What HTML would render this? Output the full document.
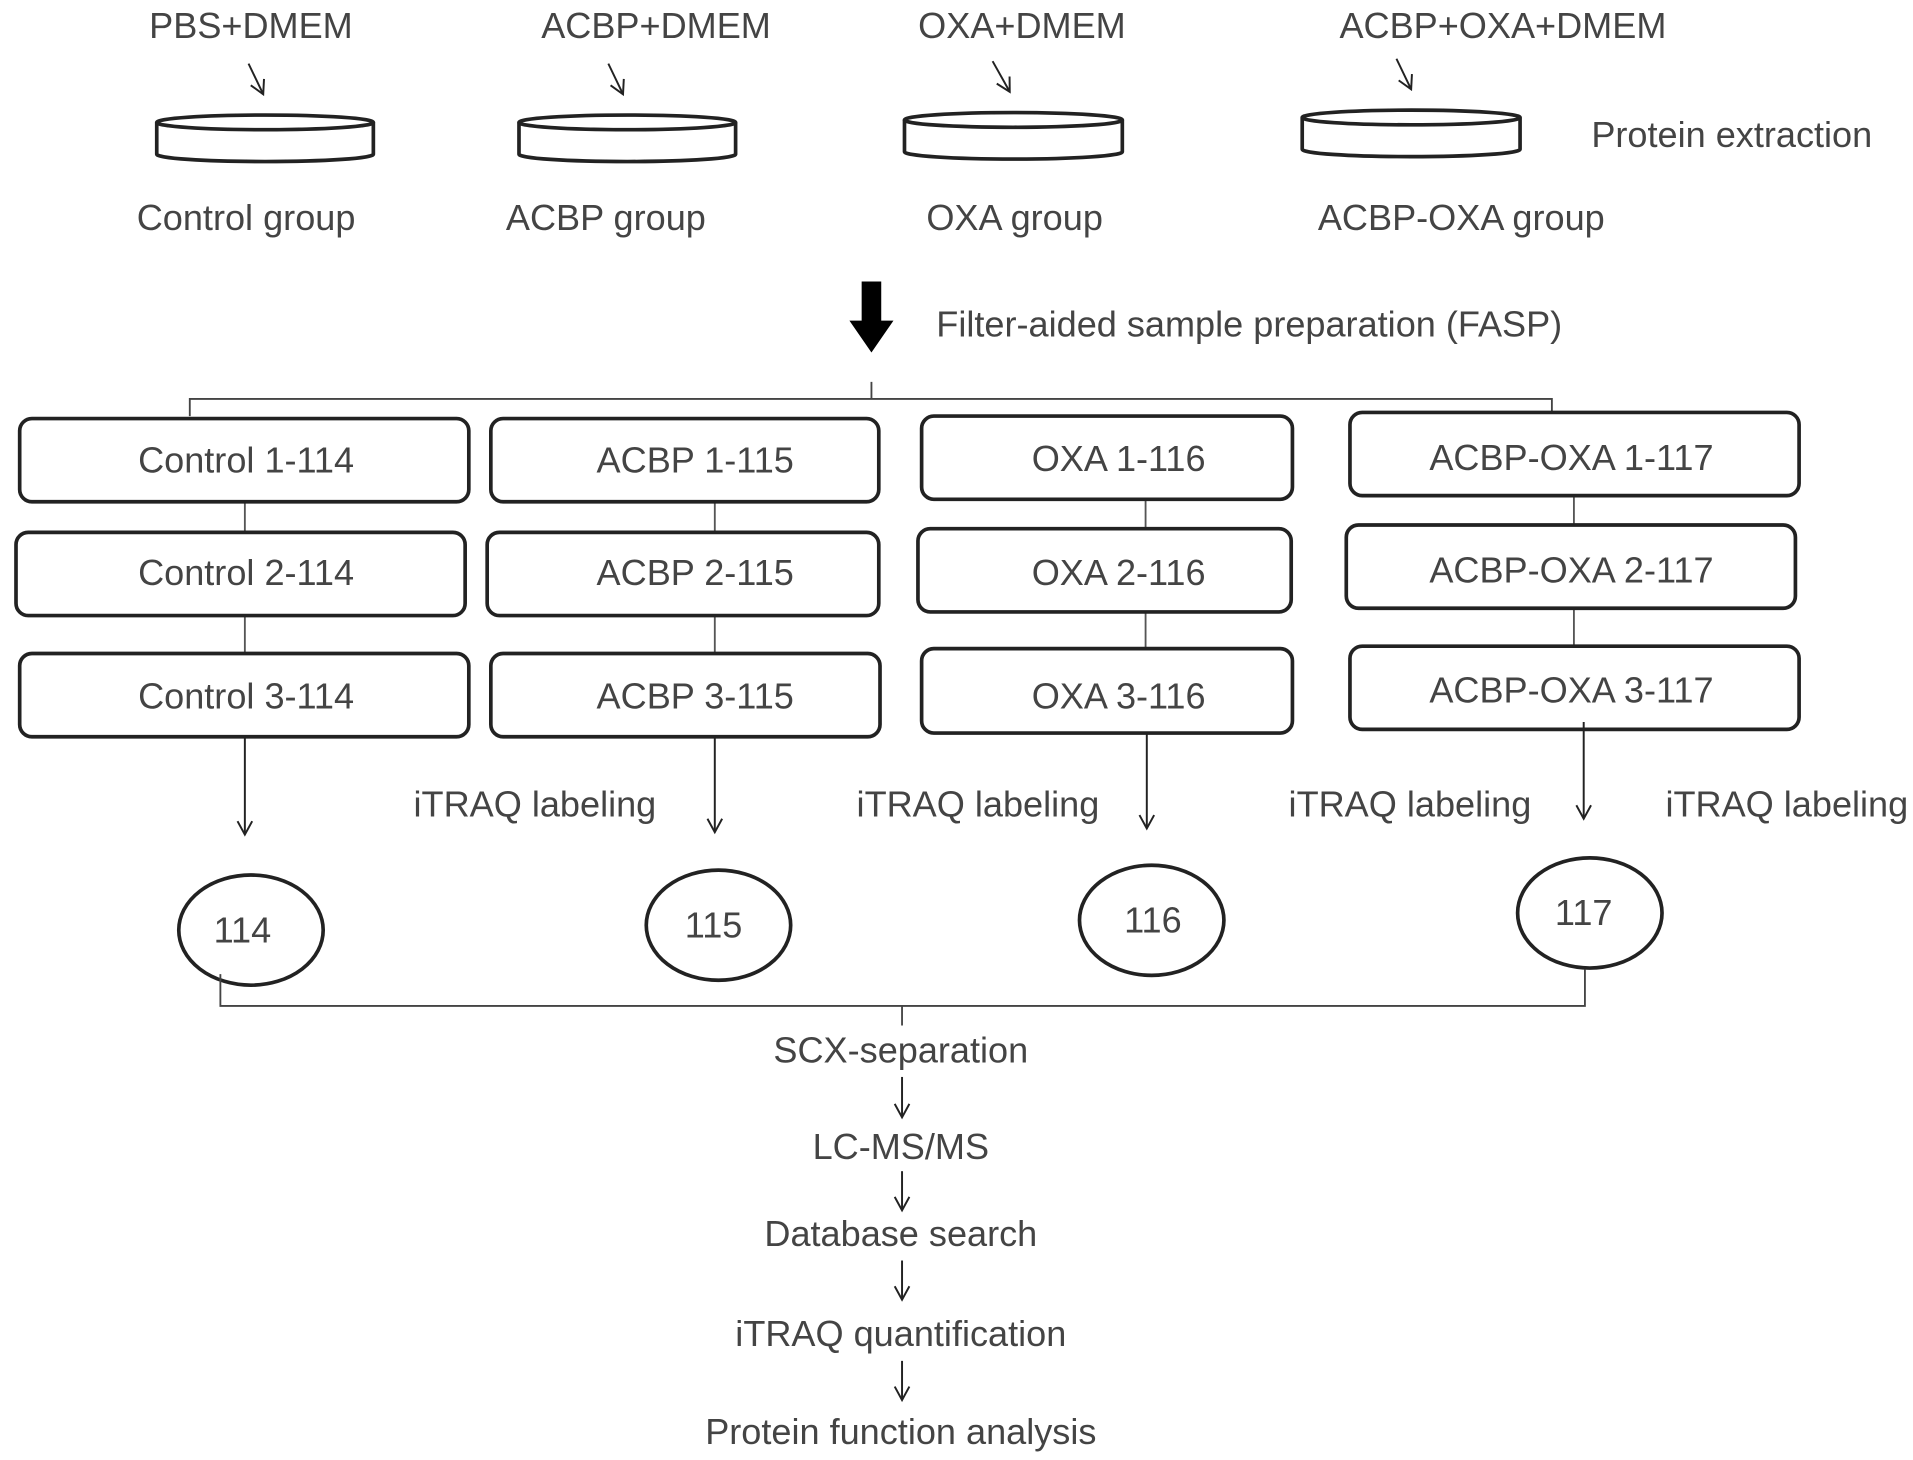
<!DOCTYPE html>
<html><head><style>
html,body{margin:0;padding:0;background:#fff;}
svg{display:block;}
text{font-family:"Liberation Sans",sans-serif;fill:#444;font-size:29.5px;}
</style></head><body>
<svg width="1913" height="1460" viewBox="0 0 1563 1193" xmlns="http://www.w3.org/2000/svg">
<defs>
<marker id="a" markerWidth="14" markerHeight="14" refX="12" refY="7" orient="auto" markerUnits="userSpaceOnUse">
<path d="M1,1 L12,7 L1,13" fill="none" stroke="#222" stroke-width="1.6"/>
</marker>
</defs>
<g fill="none" stroke="#222">
<line x1="203" y1="52" x2="215" y2="77" stroke-width="1.6" marker-end="url(#a)"/>
<line x1="497" y1="52" x2="509" y2="77" stroke-width="1.6" marker-end="url(#a)"/>
<line x1="811" y1="50" x2="825" y2="75" stroke-width="1.6" marker-end="url(#a)"/>
<line x1="1141" y1="48" x2="1153" y2="73" stroke-width="1.6" marker-end="url(#a)"/>
</g>
<g fill="#fff" stroke="#222" stroke-width="3">
<path d="M128,100 L128,126 A88.5,6 0 0 0 305,126 L305,100"/>
<ellipse cx="216.5" cy="100" rx="88.5" ry="6"/>
<path d="M424,100 L424,126 A88.5,6 0 0 0 601,126 L601,100"/>
<ellipse cx="512.5" cy="100" rx="88.5" ry="6"/>
<path d="M739,98 L739,124 A89,6 0 0 0 917,124 L917,98"/>
<ellipse cx="828" cy="98" rx="89" ry="6"/>
<path d="M1064,96 L1064,122 A89,6 0 0 0 1242,122 L1242,96"/>
<ellipse cx="1153" cy="96" rx="89" ry="6"/>
</g>
<text x="205" y="31" text-anchor="middle">PBS+DMEM</text>
<text x="536" y="31" text-anchor="middle">ACBP+DMEM</text>
<text x="835" y="31" text-anchor="middle">OXA+DMEM</text>
<text x="1228" y="31" text-anchor="middle">ACBP+OXA+DMEM</text>
<text x="1415" y="120" text-anchor="middle">Protein extraction</text>
<text x="201" y="188" text-anchor="middle">Control group</text>
<text x="495" y="188" text-anchor="middle">ACBP group</text>
<text x="829" y="188" text-anchor="middle">OXA group</text>
<text x="1194" y="188" text-anchor="middle">ACBP-OXA group</text>
<path d="M704,230 L720,230 L720,262 L730,262 L712,288 L694,262 L704,262 Z" fill="#000"/>
<text x="765" y="275">Filter-aided sample preparation (FASP)</text>
<path d="M155,340 L155,326 L1268,326 L1268,338 M712,326 L712,312" fill="none" stroke="#444" stroke-width="1.5"/>
<g stroke="#555" stroke-width="1.5">
<line x1="200" y1="410" x2="200" y2="534"/>
<line x1="584" y1="410" x2="584" y2="534"/>
<line x1="936" y1="408" x2="936" y2="530"/>
<line x1="1286" y1="405" x2="1286" y2="528"/>
</g>
<g fill="#fff" stroke="#222" stroke-width="3">
<rect x="16" y="342" width="367" height="68" rx="10"/>
<rect x="13" y="435" width="367" height="68" rx="10"/>
<rect x="16" y="534" width="367" height="68" rx="10"/>
<rect x="401" y="342" width="317" height="68" rx="10"/>
<rect x="398" y="435" width="320" height="68" rx="10"/>
<rect x="401" y="534" width="318" height="68" rx="10"/>
<rect x="753" y="340" width="303" height="68" rx="10"/>
<rect x="750" y="432" width="305" height="68" rx="10"/>
<rect x="753" y="530" width="303" height="69" rx="10"/>
<rect x="1103" y="337" width="367" height="68" rx="10"/>
<rect x="1100" y="429" width="367" height="68" rx="10"/>
<rect x="1103" y="528" width="367" height="68" rx="10"/>
</g>
<g text-anchor="middle">
<text x="201" y="386">Control 1-114</text>
<text x="201" y="478">Control 2-114</text>
<text x="201" y="579">Control 3-114</text>
<text x="568" y="386">ACBP 1-115</text>
<text x="568" y="478">ACBP 2-115</text>
<text x="568" y="579">ACBP 3-115</text>
<text x="914" y="385">OXA 1-116</text>
<text x="914" y="478">OXA 2-116</text>
<text x="914" y="579">OXA 3-116</text>
<text x="1284" y="384">ACBP-OXA 1-117</text>
<text x="1284" y="476">ACBP-OXA 2-117</text>
<text x="1284" y="574">ACBP-OXA 3-117</text>
</g>
<g stroke="#222" stroke-width="1.6">
<line x1="200" y1="602" x2="200" y2="682" marker-end="url(#a)"/>
<line x1="584" y1="602" x2="584" y2="680" marker-end="url(#a)"/>
<line x1="937" y1="599" x2="937" y2="677" marker-end="url(#a)"/>
<line x1="1294" y1="590" x2="1294" y2="669" marker-end="url(#a)"/>
</g>
<text x="437" y="667" text-anchor="middle">iTRAQ labeling</text>
<text x="799" y="667" text-anchor="middle">iTRAQ labeling</text>
<text x="1152" y="667" text-anchor="middle">iTRAQ labeling</text>
<text x="1460" y="667" text-anchor="middle">iTRAQ labeling</text>
<g fill="#fff" stroke="#222" stroke-width="3">
<ellipse cx="205" cy="760" rx="59" ry="45"/>
<ellipse cx="587" cy="756" rx="59" ry="45"/>
<ellipse cx="941" cy="752" rx="59" ry="45"/>
<ellipse cx="1299" cy="746" rx="59" ry="45"/>
</g>
<g text-anchor="middle">
<text x="198" y="770">114</text>
<text x="583" y="766">115</text>
<text x="942" y="762">116</text>
<text x="1294" y="756">117</text>
</g>
<path d="M180,796 L180,822 L1295,822 L1295,792 M737,822 L737,838" fill="none" stroke="#444" stroke-width="1.5"/>
<text x="736" y="868" text-anchor="middle">SCX-separation</text>
<text x="736" y="947" text-anchor="middle">LC-MS/MS</text>
<text x="736" y="1018" text-anchor="middle">Database search</text>
<text x="736" y="1100" text-anchor="middle">iTRAQ quantification</text>
<text x="736" y="1180" text-anchor="middle">Protein function analysis</text>
<g stroke="#222" stroke-width="1.6">
<line x1="737" y1="880" x2="737" y2="913" marker-end="url(#a)"/>
<line x1="737" y1="957" x2="737" y2="989" marker-end="url(#a)"/>
<line x1="737" y1="1030" x2="737" y2="1062" marker-end="url(#a)"/>
<line x1="737" y1="1112" x2="737" y2="1144" marker-end="url(#a)"/>
</g>
</svg>
</body></html>
